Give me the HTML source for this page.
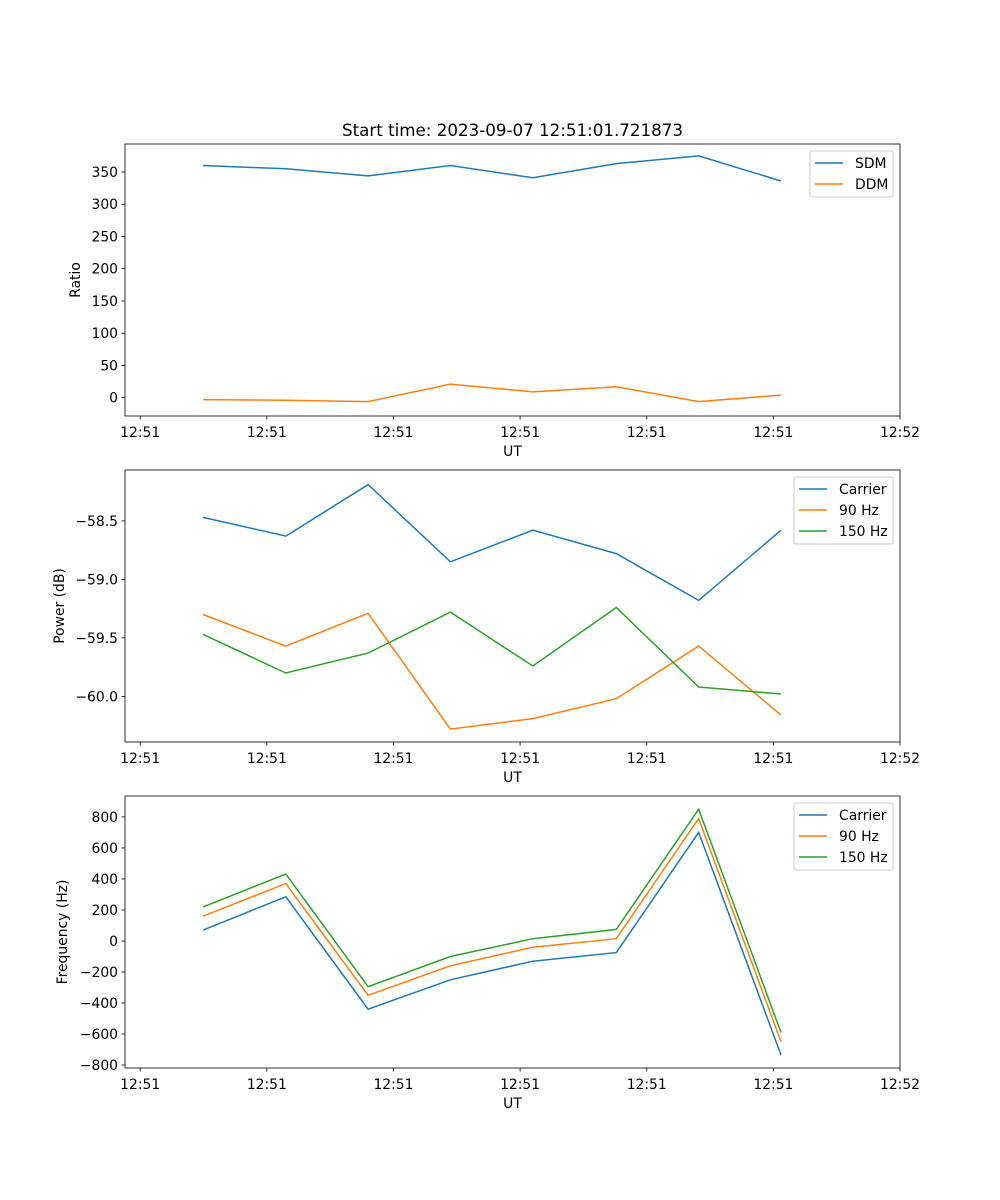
<!DOCTYPE html>
<html><head><meta charset="utf-8"><style>
html,body{margin:0;padding:0;background:#fff;}
svg{display:block;font-family:"DejaVu Sans","Liberation Sans",sans-serif;}
</style></head><body>
<svg id="fig" width="1000" height="1200" xmlns="http://www.w3.org/2000/svg"></svg>
<script>
const times = [4.97, 11.5, 18.0, 24.5, 31.0, 37.6, 44.1, 50.6];
const xTickVals = [0, 10, 20, 30, 40, 50, 60];
const xTickLabels = ["12:51","12:51","12:51","12:51","12:51","12:51","12:52"];
const sdm = [360, 355, 344, 360, 341, 363, 375, 336];
const ddm = [-3, -4, -6, 21, 9, 17, -6, 4];
const powCarrier = [-58.47, -58.63, -58.19, -58.85, -58.58, -58.78, -59.18, -58.58];
const pow90 = [-59.30, -59.57, -59.29, -60.28, -60.19, -60.02, -59.57, -60.16];
const pow150 = [-59.47, -59.80, -59.63, -59.28, -59.74, -59.24, -59.92, -59.98];
const freqCarrier = [70, 285, -440, -250, -130, -75, 700, -735];
const freq90 = [160, 370, -350, -160, -40, 15, 790, -650];
const freq150 = [220, 432, -295, -100, 15, 75, 850, -590];
const ratioTicks = [0, 50, 100, 150, 200, 250, 300, 350];
const powTicks = [-60.0, -59.5, -59.0, -58.5];
const freqTicks = [-800, -600, -400, -200, 0, 200, 400, 600, 800];

const NS = "http://www.w3.org/2000/svg";
const svg = document.getElementById("fig");
function mk(tag, attrs, parent){
  const e = document.createElementNS(NS, tag);
  for (const k in attrs) e.setAttribute(k, attrs[k]);
  (parent||svg).appendChild(e); return e;
}
const L = 125, R = 900;
const xDom = [-1.2, 60];
function xs(v){ return L + (v - xDom[0]) / (xDom[1] - xDom[0]) * (R - L); }

function panel(name, top, bot, yDom, yTicks, fmt, ylabel, series, legend){
  const g = mk("g", {});
  
  
  const ys = v => bot - (v - yDom[0]) / (yDom[1] - yDom[0]) * (bot - top);
  series.forEach(s => {
    const pl = mk("polyline", {points: s.vals.map((v,i)=>xs(times[i]).toFixed(1)+","+ys(v).toFixed(1)).join(" "), fill:"none", stroke:s.color, "stroke-width":1.5}, g);
    
    
  });
  const fr = mk("rect", {x:L, y:top, width:R-L, height:bot-top, fill:"none", stroke:"#000", "stroke-width":0.8}, g);
  
  
  xTickVals.forEach((v,i) => {
    const x = xs(v);
    mk("line", {x1:x, x2:x, y1:bot, y2:bot+3.5, stroke:"#000", "stroke-width":0.8}, g);
    const t = mk("text", {x:x, y:bot+21, "font-size":13.9, "text-anchor":"middle", fill:"#000"}, g);
    t.textContent = xTickLabels[i];
    
    
  });
  yTicks.forEach(v => {
    const y = ys(v);
    mk("line", {x1:L-3.5, x2:L, y1:y, y2:y, stroke:"#000", "stroke-width":0.8}, g);
    const t = mk("text", {x:L-7, y:y+5, "font-size":13.9, "text-anchor":"end", fill:"#000"}, g);
    t.textContent = fmt(v);
    
    
  });
  const xl = mk("text", {x:(L+R)/2, y:bot+40, "font-size":13.9, "text-anchor":"middle"}, g);
  xl.textContent = "UT";
  
  
  const cy = (top+bot)/2;
  const yl = mk("text", {x:0, y:0, "font-size":13.9, "text-anchor":"middle", transform:`translate(${legend.ylx},${cy}) rotate(-90)`}, g);
  yl.textContent = ylabel;
  
  
  const lg = mk("g", {}, g);
  
  
  mk("rect", {x:legend.x, y:top+7, width:legend.w, height:series.length*21+4, rx:2, fill:"#fff", stroke:"#ccc", "stroke-width":1}, lg);
  series.forEach((s,i) => {
    const y = top + 19 + i*21;
    mk("line", {x1:legend.x+5, x2:legend.x+33, y1:y, y2:y, stroke:s.color, "stroke-width":1.5}, lg);
    const t = mk("text", {x:legend.x+45, y:y+5, "font-size":13.9}, lg);
    t.textContent = s.label;
    
    
  });
}
const B = "#1f77b4", O = "#ff7f0e", G = "#2ca02c";
const title = mk("text", {x:512.5, y:136, "font-size":16.7, "text-anchor":"middle"});
title.textContent = "Start time: 2023-09-07 12:51:01.721873";


panel("ratio", 144, 416, [-28.4, 393.4], ratioTicks, v=>String(v), "Ratio",
  [{key:"sdm",label:"SDM",vals:sdm,color:B},{key:"ddm",label:"DDM",vals:ddm,color:O}],
  {x:810, w:83, ylx:80});
panel("power", 470, 742, [-60.39, -58.085+0.02], powTicks, v=>(v<0?"\u2212":"")+Math.abs(v).toFixed(1), "Power (dB)",
  [{key:"carrier",label:"Carrier",vals:powCarrier,color:B},{key:"90hz",label:"90 Hz",vals:pow90,color:O},{key:"150hz",label:"150 Hz",vals:pow150,color:G}],
  {x:794, w:99, ylx:64});
panel("frequency", 796, 1068, [-819, 935], freqTicks, v=>(v<0?"\u2212":"")+Math.abs(v), "Frequency (Hz)",
  [{key:"carrier-f",label:"Carrier",vals:freqCarrier,color:B},{key:"90hz-f",label:"90 Hz",vals:freq90,color:O},{key:"150hz-f",label:"150 Hz",vals:freq150,color:G}],
  {x:794, w:99, ylx:67});
</script>
</body></html>
